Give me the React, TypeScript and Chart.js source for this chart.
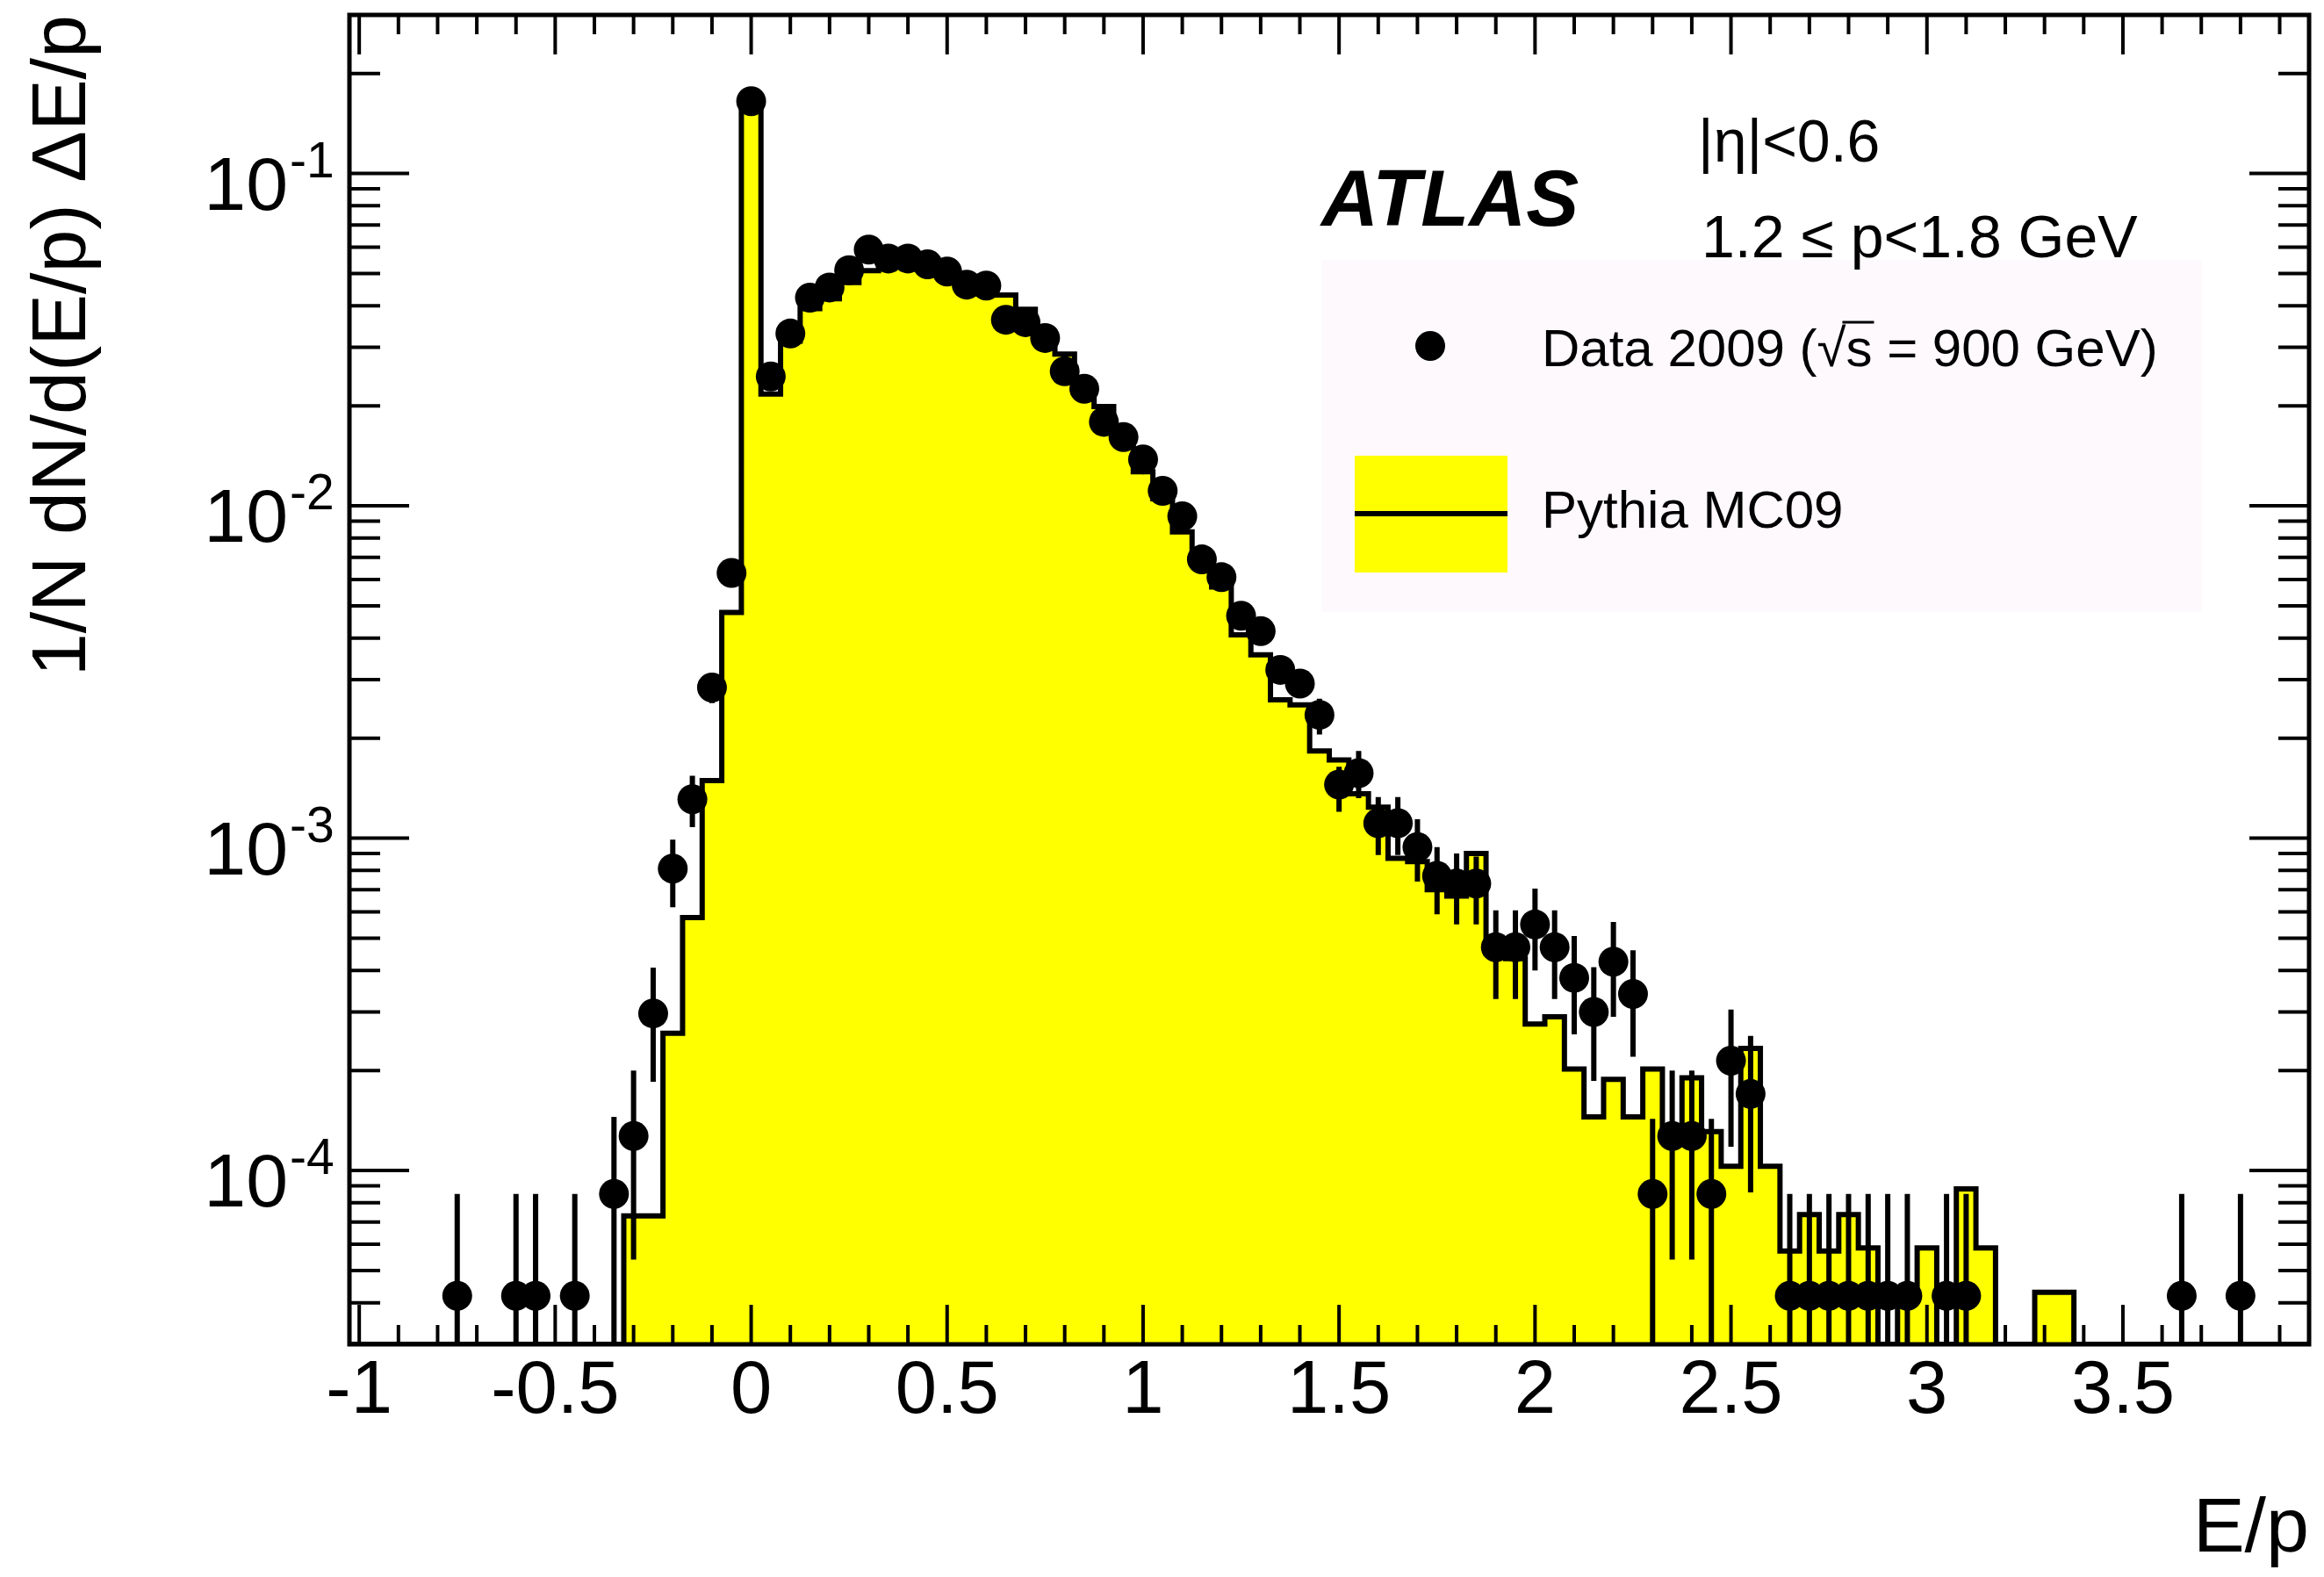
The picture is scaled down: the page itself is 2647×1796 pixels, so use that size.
import React, { useEffect, useRef } from "react";
import { Chart, registerables } from "chart.js";

Chart.register(...registerables);

const FONT = '"Liberation Sans", Arial, Helvetica, sans-serif';

// ---- axis ranges ----
const X_MIN = -1.025;
const X_MAX = 3.975;
const Y_MIN = 3e-5;
const Y_MAX = 0.3;
const BIN_WIDTH = 0.05;

// ---- tick labels ----
const xTickValues = [-1, -0.5, 0, 0.5, 1, 1.5, 2, 2.5, 3, 3.5];
const xTickLabels = ["-1", "-0.5", "0", "0.5", "1", "1.5", "2", "2.5", "3", "3.5"];
const yTickValues = [1e-4, 1e-3, 1e-2, 1e-1];
const yTickBase = "10";
const yTickExponents = ["-4", "-3", "-2", "-1"];

// ---- texts ----
const xTitle = "E/p";
const yTitle = "1/N dN/d(E/p) \u0394E/p";
const atlasLabel = "ATLAS";
const etaLabel = "|\u03b7|<0.6";
const momentumLabel = "1.2 \u2264 p<1.8 GeV";
const dataLegendPrefix = "Data 2009 (\u221a";
const dataLegendSuffix = "s = 900 GeV)";
const dataLegend = dataLegendPrefix + dataLegendSuffix;
const mcLegend = "Pythia MC09";

// ---- Pythia MC09 histogram (bin centres, contents) ----
const mcBinCenters = [
  -0.3, -0.25, -0.2, -0.15, -0.1, -0.05,
  0, 0.05, 0.1, 0.15, 0.2, 0.25, 0.3, 0.35, 0.4, 0.45,
  0.5, 0.55, 0.6, 0.65, 0.7, 0.75, 0.8, 0.85, 0.9, 0.95,
  1.0, 1.05, 1.1, 1.15, 1.2, 1.25, 1.3, 1.35, 1.4, 1.45,
  1.5, 1.55, 1.6, 1.65, 1.7, 1.75, 1.8, 1.85, 1.9, 1.95,
  2.0, 2.05, 2.1, 2.15, 2.2, 2.25, 2.3, 2.35, 2.4, 2.45,
  2.5, 2.55, 2.6, 2.65, 2.7, 2.75, 2.8, 2.85, 2.9, 2.95,
  3.0, 3.05, 3.1, 3.15, 3.2, 3.25, 3.3, 3.35,
];
const mcValues = [
  7.3e-5, 7.3e-5, 2.59e-4, 5.77e-4, 1.49e-3, 4.78e-3,
  0.16, 0.0217, 0.0313, 0.0392, 0.042, 0.047, 0.051, 0.053, 0.053, 0.052,
  0.05, 0.049, 0.046, 0.0431, 0.039, 0.0325, 0.0286, 0.0235, 0.0199, 0.016,
  0.01266, 0.0105, 0.00835, 0.0072, 0.0057, 0.00409, 0.00356, 0.00261, 0.00252, 0.00183,
  0.00172, 0.00136, 0.00124, 0.00087, 0.00085, 0.0007, 0.00067, 0.0009, 0.00045, 0.000434,
  0.000276, 0.00029, 0.000202, 0.000145, 0.000188, 0.000145, 0.000202, 0.00013, 0.00019, 0.000131,
  0.000103, 0.000233, 0.000103, 5.73e-5, 7.37e-5, 5.73e-5, 7.37e-5, 5.85e-5, 0, 4.2e-5,
  5.85e-5, 0, 8.8e-5, 5.85e-5, 0, 0, 4.3e-5, 4.3e-5,
];

// ---- Data 2009 points ----
const dataCenters = [
  -0.75, -0.6, -0.55, -0.45, -0.35,
  -0.3, -0.25, -0.2, -0.15, -0.1, -0.05,
  0, 0.05, 0.1, 0.15, 0.2, 0.25, 0.3, 0.35, 0.4, 0.45,
  0.5, 0.55, 0.6, 0.65, 0.7, 0.75, 0.8, 0.85, 0.9, 0.95,
  1.0, 1.05, 1.1, 1.15, 1.2, 1.25, 1.3, 1.35, 1.4, 1.45,
  1.5, 1.55, 1.6, 1.65, 1.7, 1.75, 1.8, 1.85, 1.9, 1.95,
  2.0, 2.05, 2.1, 2.15, 2.2, 2.25, 2.3, 2.35, 2.4, 2.45,
  2.5, 2.55, 2.65, 2.7, 2.75, 2.8, 2.85, 2.9, 2.95,
  3.05, 3.1, 3.65, 3.8,
];
const dataValues = [
  4.2e-5, 4.2e-5, 4.2e-5, 4.2e-5, 8.5e-5,
  1.27e-4, 2.97e-4, 8.1e-4, 1.31e-3, 2.84e-3, 6.28e-3,
  0.165, 0.0245, 0.033, 0.0423, 0.0454, 0.0512, 0.059, 0.0555, 0.0555, 0.0533,
  0.0507, 0.0463, 0.046, 0.0363, 0.0357, 0.032, 0.0254, 0.0225, 0.0179, 0.0161,
  0.0138, 0.0111, 0.0093, 0.0069, 0.0061, 0.00467, 0.0042, 0.00321, 0.00292, 0.00235,
  0.00145, 0.00157, 0.00111, 0.00111, 0.00094, 0.00077, 0.00073, 0.00073, 0.00047, 0.00047,
  0.00055, 0.00047, 0.00038, 0.0003, 0.000425, 0.00034, 8.5e-5, 1.27e-4, 1.27e-4, 8.5e-5,
  2.14e-4, 1.7e-4, 4.2e-5, 4.2e-5, 4.2e-5, 4.2e-5, 4.2e-5, 4.2e-5, 4.2e-5,
  4.2e-5, 4.2e-5, 4.2e-5, 4.2e-5,
];
const dataErrUp = [
  4.3e-5, 4.3e-5, 4.3e-5, 4.3e-5, 6.0e-5,
  7.3e-5, 1.11e-4, 1.8e-4, 2.3e-4, 2.6e-4, 3.8e-4,
  1.7e-3, 6e-4, 7e-4, 8e-4, 8e-4, 9e-4, 1e-3, 1e-3, 1e-3, 1e-3,
  9e-4, 9e-4, 9e-4, 8e-4, 8e-4, 7e-4, 7e-4, 6e-4, 6e-4, 5e-4,
  5e-4, 4e-4, 4e-4, 3.5e-4, 3.3e-4, 3e-4, 3e-4, 2.6e-4, 2.5e-4, 2.8e-4,
  1.9e-4, 2.6e-4, 2.2e-4, 2.2e-4, 2.0e-4, 1.7e-4, 1.7e-4, 1.5e-4, 1.37e-4, 1.37e-4,
  1.55e-4, 1.37e-4, 1.28e-4, 1.09e-4, 1.35e-4, 1.2e-4, 5.8e-5, 7.3e-5, 7.3e-5, 5.8e-5,
  9.1e-5, 8.4e-5, 4.3e-5, 4.3e-5, 4.3e-5, 4.3e-5, 4.3e-5, 4.3e-5, 4.3e-5,
  4.3e-5, 4.3e-5, 4.3e-5, 4.3e-5,
];
const dataErrDown = [
  4.2e-5, 4.2e-5, 4.2e-5, 4.2e-5, 8.5e-5,
  7.3e-5, 1.12e-4, 1.9e-4, 2.3e-4, 2.9e-4, 4.0e-4,
  1.7e-3, 6e-4, 7e-4, 8e-4, 8e-4, 9e-4, 1e-3, 1e-3, 1e-3, 1e-3,
  9e-4, 9e-4, 9e-4, 8e-4, 8e-4, 7e-4, 7e-4, 6e-4, 6e-4, 5e-4,
  5e-4, 4e-4, 4e-4, 3.5e-4, 3.3e-4, 3e-4, 3e-4, 2.6e-4, 2.5e-4, 3e-4,
  2.5e-4, 2.5e-4, 2.2e-4, 2.2e-4, 2.0e-4, 1.8e-4, 1.8e-4, 1.8e-4, 1.42e-4, 1.42e-4,
  1.5e-4, 1.42e-4, 1.23e-4, 1.14e-4, 1.35e-4, 1.2e-4, 8.5e-5, 7.3e-5, 7.3e-5, 8.5e-5,
  9.6e-5, 8.4e-5, 4.2e-5, 4.2e-5, 4.2e-5, 4.2e-5, 4.2e-5, 4.2e-5, 4.2e-5,
  4.2e-5, 4.2e-5, 4.2e-5, 4.2e-5,
];

// ---------- derived datasets ----------
function buildMcStep() {
  const pts: { x: number; y: number }[] = [];
  const half = BIN_WIDTH / 2;
  pts.push({ x: X_MIN, y: Y_MIN });
  pts.push({ x: mcBinCenters[0] - half, y: Y_MIN });
  mcBinCenters.forEach((c, i) => {
    const v = mcValues[i] > 0 ? mcValues[i] : Y_MIN;
    pts.push({ x: c - half, y: v });
    pts.push({ x: c + half, y: v });
  });
  pts.push({ x: mcBinCenters[mcBinCenters.length - 1] + half, y: Y_MIN });
  pts.push({ x: X_MAX, y: Y_MIN });
  return pts;
}

function buildErrorSegments() {
  const pts: { x: number; y: number | null }[] = [];
  dataCenters.forEach((c, i) => {
    const lo = dataValues[i] - dataErrDown[i];
    const hi = dataValues[i] + dataErrUp[i];
    pts.push({ x: c, y: lo > Y_MIN ? lo : Y_MIN });
    pts.push({ x: c, y: hi });
    pts.push({ x: c, y: null });
  });
  return pts;
}

function buildDataPoints() {
  return dataCenters.map((c, i) => ({ x: c, y: dataValues[i] }));
}

// ---------- decoration plugin (ROOT-style frame, ticks, labels, legend) ----------
const decorPlugin = {
  id: "rootDecor",
  afterDraw(chart: any) {
    const ctx: CanvasRenderingContext2D = chart.ctx;
    const { left, right, top, bottom } = chart.chartArea;
    const xs = chart.scales.x;
    const ys = chart.scales.y;
    ctx.save();
    ctx.strokeStyle = "#000";
    ctx.fillStyle = "#000";

    // x ticks (inside, bottom and top)
    ctx.lineWidth = 4;
    ctx.beginPath();
    for (let k = -10; k <= 39; k++) {
      const v = k / 10;
      if (v < X_MIN || v > X_MAX) continue;
      const major = k % 5 === 0;
      const len = major ? 45 : 22;
      const px = xs.getPixelForValue(v);
      ctx.moveTo(px, bottom);
      ctx.lineTo(px, bottom - len);
      ctx.moveTo(px, top);
      ctx.lineTo(px, top + len);
    }
    // y ticks (log)
    for (let d = -5; d <= 0; d++) {
      for (let m = 1; m <= 9; m++) {
        const v = m * Math.pow(10, d);
        if (v < Y_MIN * 0.999 || v > Y_MAX * 1.001) continue;
        const len = m === 1 ? 68 : 35;
        const py = ys.getPixelForValue(v);
        ctx.moveTo(left, py);
        ctx.lineTo(left + len, py);
        ctx.moveTo(right, py);
        ctx.lineTo(right - len, py);
      }
    }
    ctx.stroke();

    // frame
    ctx.lineWidth = 5;
    ctx.strokeRect(left, top, right - left, bottom - top);

    // y tick labels 10^n
    yTickValues.forEach((v, i) => {
      const py = ys.getPixelForValue(v);
      ctx.font = `86px ${FONT}`;
      ctx.textAlign = "right";
      ctx.textBaseline = "alphabetic";
      ctx.fillText(yTickBase, left - 70, py + 41);
      ctx.font = `57px ${FONT}`;
      ctx.textAlign = "left";
      ctx.fillText(yTickExponents[i], left - 68, py + 4);
    });

    // legend box (drawn first so the labels above sit on top)
    ctx.fillStyle = "#FDF9FD";
    ctx.fillRect(1505, 296, 1003, 401);

    // ATLAS label and selection texts
    ctx.fillStyle = "#000";
    ctx.textAlign = "left";
    ctx.textBaseline = "alphabetic";
    ctx.font = `italic bold 90px ${FONT}`;
    ctx.fillText(atlasLabel, 1505, 257);

    ctx.font = `68px ${FONT}`;
    ctx.fillText(etaLabel, 1934, 184);
    ctx.fillText(momentumLabel, 1938, 293);

    // data entry
    ctx.beginPath();
    ctx.arc(1629, 394, 17, 0, Math.PI * 2);
    ctx.fill();
    ctx.font = `60px ${FONT}`;
    const tx = 1756;
    const ty = 417;
    ctx.fillText(dataLegend, tx, ty);
    const preW = ctx.measureText(dataLegendPrefix).width;
    const sW = ctx.measureText("s").width;
    ctx.lineWidth = 3;
    ctx.beginPath();
    ctx.moveTo(tx + preW - 4, ty - 50);
    ctx.lineTo(tx + preW + sW + 2, ty - 50);
    ctx.stroke();

    // MC entry
    ctx.fillStyle = "#FFFF00";
    ctx.fillRect(1543, 519, 174, 133);
    ctx.strokeStyle = "#000";
    ctx.lineWidth = 6;
    ctx.beginPath();
    ctx.moveTo(1543, 585);
    ctx.lineTo(1717, 585);
    ctx.stroke();
    ctx.fillStyle = "#000";
    ctx.fillText(mcLegend, 1756, 601);

    ctx.restore();
  },
};

export default function App() {
  const canvasRef = useRef<HTMLCanvasElement | null>(null);

  useEffect(() => {
    const canvas = canvasRef.current;
    if (!canvas) return;
    Chart.defaults.font.family = FONT;
    Chart.defaults.color = "#000";

    const chart = new Chart(canvas, {
      type: "scatter",
      data: {
        datasets: [
          {
            type: "scatter",
            label: dataLegend,
            data: buildDataPoints(),
            pointRadius: 17,
            pointHoverRadius: 17,
            pointBackgroundColor: "#000",
            pointBorderColor: "#000",
            pointBorderWidth: 0,
            order: 1,
          } as any,
          {
            type: "line",
            label: "Data 2009 errors",
            data: buildErrorSegments(),
            borderColor: "#000",
            borderWidth: 6,
            borderCapStyle: "butt",
            pointRadius: 0,
            showLine: true,
            spanGaps: false,
            fill: false,
            order: 2,
          } as any,
          {
            type: "line",
            label: mcLegend,
            data: buildMcStep(),
            borderColor: "#000",
            borderWidth: 6,
            borderJoinStyle: "miter",
            backgroundColor: "#FFFF00",
            fill: "start",
            pointRadius: 0,
            showLine: true,
            tension: 0,
            order: 3,
          } as any,
        ],
      },
      options: {
        responsive: false,
        maintainAspectRatio: false,
        devicePixelRatio: 1,
        animation: false,
        events: [],
        layout: { padding: { left: 0, right: 5, top: 7, bottom: 0 } },
        plugins: {
          legend: { display: false },
          tooltip: { enabled: false },
        },
        scales: {
          x: {
            type: "linear",
            min: X_MIN,
            max: X_MAX,
            grid: { display: false, drawTicks: false },
            border: { display: false },
            afterBuildTicks: (scale: any) => {
              scale.ticks = xTickValues.map((value) => ({ value }));
            },
            afterFit: (scale: any) => {
              scale.height = 265;
            },
            ticks: {
              autoSkip: false,
              maxRotation: 0,
              minRotation: 0,
              padding: 4,
              color: "#000",
              font: { size: 85, family: FONT },
              callback: (_v: any, i: number) => xTickLabels[i],
            },
            title: {
              display: true,
              text: xTitle,
              align: "end",
              color: "#000",
              font: { size: 88, family: FONT },
              padding: { top: 0, bottom: 0 },
            },
          },
          y: {
            type: "logarithmic",
            min: Y_MIN,
            max: Y_MAX,
            grid: { display: false, drawTicks: false },
            border: { display: false },
            ticks: { display: false },
            afterFit: (scale: any) => {
              scale.width = 398;
            },
            title: {
              display: true,
              text: yTitle,
              align: "end",
              color: "#000",
              font: { size: 88, family: FONT },
              padding: { top: 20, bottom: 0 },
            },
          },
        },
      },
      plugins: [decorPlugin],
    } as any);

    return () => {
      chart.destroy();
    };
  }, []);

  return (
    <div style={{ position: "absolute", left: 0, top: 0, width: 2647, height: 1796, background: "#fff" }}>
      <canvas ref={canvasRef} width={2647} height={1796} style={{ display: "block", width: 2647, height: 1796 }} />
    </div>
  );
}
